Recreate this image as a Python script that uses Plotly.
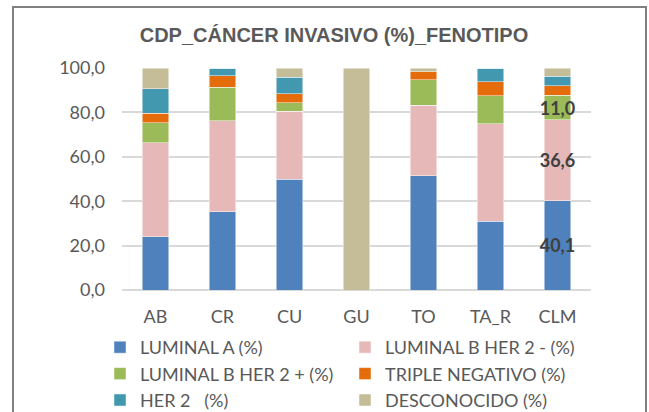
import plotly.graph_objects as go

REGIONS = ["AB", "CR", "CU", "GU", "TO", "TA_R", "CLM"]

SERIES = [
    "LUMINAL A (%)",
    "LUMINAL B HER 2 - (%)",
    "LUMINAL B HER 2 + (%)",
    "TRIPLE NEGATIVO (%)",
    "HER 2   (%)",
    "DESCONOCIDO (%)",
]

luminal_a = [24.0, 35.3, 49.9, 0.0, 51.5, 30.9, 40.1]
luminal_b_her2_neg = [42.4, 41.0, 30.7, 0.0, 31.8, 44.0, 36.6]
luminal_b_her2_pos = [9.0, 15.1, 3.8, 0.0, 11.4, 12.6, 11.0]
triple_negativo = [4.3, 5.1, 3.9, 0.0, 3.6, 6.3, 4.2]
her2 = [11.0, 3.5, 7.5, 0.0, 0.0, 6.2, 4.3]
desconocido = [9.3, 0.0, 4.2, 100.0, 1.7, 0.0, 3.8]

COLORS = ["#4f81bd", "#e6b9b8", "#9bbb59", "#e46c0a", "#4198af", "#c4bd97"]

# only the CLM column carries labels, for the first three series
LABELLED = {0, 1, 2}

W, H = 649, 412
L, R, T, B = 122, 58, 68, 122

fig = go.Figure()
values = [luminal_a, luminal_b_her2_neg, luminal_b_her2_pos,
          triple_negativo, her2, desconocido]
for i, (name, vals, color) in enumerate(zip(SERIES, values, COLORS)):
    text = None
    if i in LABELLED:
        text = [f"{v:.1f}".replace(".", ",") if r == "CLM" else ""
                for r, v in zip(REGIONS, vals)]
    fig.add_trace(go.Bar(
        name=name,
        x=REGIONS,
        y=vals,
        marker=dict(color=color, line=dict(color="rgba(255,255,255,0.6)", width=0.8)),
        text=text,
        textposition="inside" if text else None,
        insidetextanchor="middle",
        constraintext="none",
        textangle=0,
        textfont=dict(family="Lato", size=18, color="#404040", weight="bold"),
        hoverinfo="x+y+name",
    ))

pw = W - L - R
ph = H - T - B
fig.add_shape(
    type="rect", xref="paper", yref="paper",
    x0=(13 - L) / pw, x1=(646 - L) / pw,
    y0=-(H + 10 - T - ph) / ph, y1=(T + ph - 7) / ph,
    line=dict(color="#808080", width=2), fillcolor="rgba(0,0,0,0)",
    layer="below",
)

fig.update_layout(
    width=W, height=H,
    margin=dict(l=L, r=R, t=T, b=B, pad=0, autoexpand=False),
    barmode="stack",
    bargap=0.6,
    separators=",.",
    paper_bgcolor="white",
    plot_bgcolor="white",
    font=dict(family="Lato", color="#595959", size=18),
    title=dict(
        text="<b>CDP_CÁNCER INVASIVO (%)_FENOTIPO</b>",
        font=dict(family="Liberation Sans", size=20, color="#595959"),
        x=334 / W, xref="container", xanchor="center",
        y=1 - 35 / H, yanchor="middle",
    ),
    legend=dict(
        orientation="h",
        x=(100 - L) / pw, xanchor="left",
        y=-(329 - T - ph) / ph, yanchor="top",
        entrywidth=200,
        traceorder="normal",
        font=dict(family="Lato", size=18, color="#595959"),
        itemwidth=30,
        tracegroupgap=0,
    ),
)

fig.update_yaxes(
    range=[0, 100],
    dtick=20,
    tickformat=".1f",
    showgrid=True,
    gridcolor="#d9d9d9",
    gridwidth=1.5,
    zeroline=True,
    zerolinecolor="#d9d9d9",
    zerolinewidth=2,
    showline=False,
    ticks="",
    ticklabelstandoff=16,
    tickfont=dict(family="Lato", size=18, color="#595959"),
)
fig.update_xaxes(
    showline=False,
    ticks="",
    ticklabelstandoff=14,
    tickfont=dict(family="Lato", size=18, color="#595959"),
)

fig.write_html(
    "out.html",
    config={"displayModeBar": False},
    post_script="document.body.style.margin='0';",
)
